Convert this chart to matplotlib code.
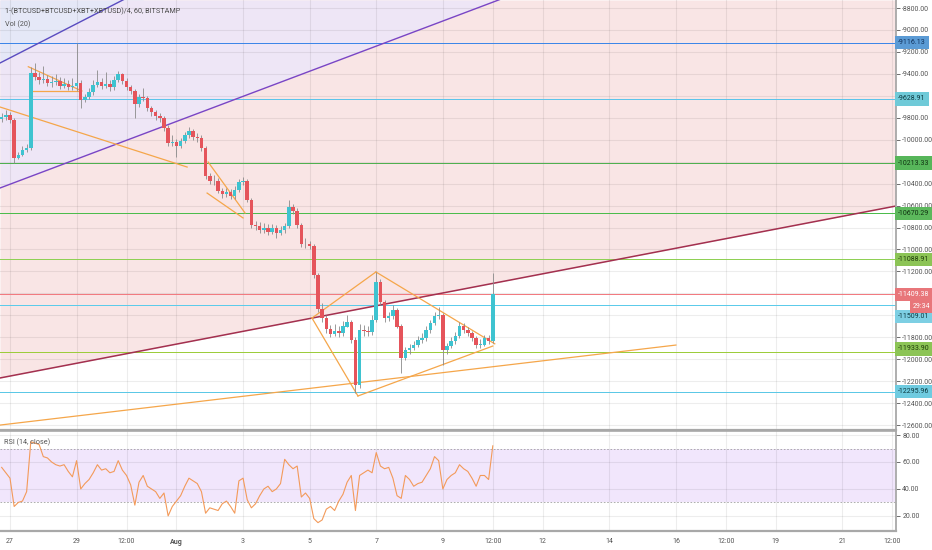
import matplotlib
matplotlib.use("Agg")
import matplotlib.pyplot as plt
import numpy as np
from matplotlib.ticker import FuncFormatter

plt.rcParams['font.family'] = ['Roboto', 'DejaVu Sans']

# 3-hour bars, day 0 = Jul 27 00:00, first bar Jul 26 18:00
bar_start = -0.25
bar_step = 0.125
first_open = -9805

closes = [-9793, -9775, -9820, -10167, -10139, -10094, -10076, -9392, -9429, -9456,
          -9447, -9483, -9474, -9465, -9511, -9492, -9520, -9511, -9483, -9638,
          -9611, -9565, -9502, -9474, -9511, -9492, -9520, -9456, -9401, -9465,
          -9520, -9556, -9675, -9611, -9620, -9711, -9748, -9784, -9802, -9893,
          -10030, -10021, -10057, -10012, -9957, -9921, -9975, -9984, -10076, -10331,
          -10376, -10376, -10467, -10495, -10477, -10513, -10458, -10385, -10376, -10549,
          -10777, -10786, -10823, -10804, -10841, -10804, -10850, -10823, -10786, -10613,
          -10650, -10777, -10950, -10950, -10969, -11233, -11543, -11625, -11725, -11770,
          -11743, -11761, -11698, -11661, -11825, -12235, -11734, -11743, -11752, -11643,
          -11297, -11479, -11625, -11606, -11552, -11698, -11989, -11916, -11898, -11871,
          -11825, -11807, -11734, -11670, -11606, -11597, -11916, -11880, -11834, -11789,
          -11698, -11734, -11761, -11807, -11871, -11862, -11807, -11834, -11409.38]

highs = [-9760, -9730, -9750, -9800, -10110, -10060, -10040, -9340, -9300, -9380,
         -9330, -9410, -9420, -9400, -9430, -9440, -9460, -9440, -9119, -9460,
         -9580, -9530, -9460, -9365, -9440, -9383, -9460, -9420, -9374, -9390,
         -9440, -9500, -9540, -9580, -9529, -9600, -9690, -9730, -9760, -9780,
         -9870, -9960, -9990, -9980, -9930, -9884, -9900, -9940, -9960, -10060,
         -10300, -10322, -10350, -10440, -10440, -10450, -10420, -10360, -10340, -10360,
         -10530, -10740, -10750, -10760, -10770, -10770, -10780, -10790, -10760, -10549,
         -10590, -10620, -10760, -10900, -10920, -10950, -11210, -11488, -11600, -11690,
         -11680, -11700, -11650, -11600, -11640, -11800, -11680, -11690, -11700, -11600,
         -11205, -11270, -11460, -11570, -11510, -11530, -11680, -11890, -11860, -11830,
         -11790, -11760, -11700, -11640, -11570, -11524, -11580, -11850, -11800, -11750,
         -11661, -11670, -11710, -11740, -11790, -11820, -11780, -11780, -11215]

lows = [-9840, -9820, -9850, -10210, -10180, -10150, -10110, -10090, -9460, -9490,
        -9480, -9510, -9520, -9500, -9540, -9530, -9550, -9550, -9560, -9711,
        -9660, -9630, -9590, -9520, -9540, -9530, -9560, -9550, -9470, -9490,
        -9550, -9580, -9802, -9700, -9650, -9740, -9780, -9820, -9840, -9920,
        -10060, -10060, -10158, -10080, -10030, -9980, -10000, -10020, -10100, -10360,
        -10400, -10410, -10490, -10530, -10520, -10540, -10540, -10480, -10410, -10570,
        -10800, -10820, -10850, -10850, -10870, -10860, -10896, -10870, -10850, -10800,
        -10680, -10800, -10980, -10990, -11000, -11260, -11570, -11660, -11760, -11800,
        -11790, -11800, -11790, -11710, -11850, -12308, -12260, -11790, -11790, -11780,
        -11660, -11510, -11660, -11650, -11630, -11720, -12126, -12010, -11950, -11920,
        -11890, -11850, -11830, -11760, -11690, -11630, -12053, -11950, -11900, -11860,
        -11810, -11760, -11790, -11830, -11900, -11900, -11880, -11860, -11850]

rsi = [56, 52, 48, 27, 30, 31, 38, 75, 74, 73,
       64, 63, 60, 58, 57, 58, 53, 49, 61, 40,
       44, 47, 52, 58, 54, 55, 52, 53, 61, 54,
       50, 43, 28, 45, 50, 42, 40, 38, 33, 37,
       20, 27, 31, 35, 42, 48, 46, 44, 38, 22,
       26, 25, 24, 29, 31, 27, 22, 46, 48, 32,
       26, 29, 35, 40, 42, 38, 40, 44, 62, 58,
       55, 57, 34, 37, 33, 18, 15, 17, 25, 27,
       24, 31, 36, 45, 50, 24, 50, 52, 54, 52,
       67, 57, 55, 56, 48, 35, 33, 50, 47, 42,
       44, 45, 50, 55, 64, 61, 40, 47, 50, 52,
       58, 55, 53, 48, 42, 50, 50, 47, 72]

# horizontal levels and their price-scale labels
levels = [-9116.13, -9628.91, -10213.33, -10670.29, -11088.91,
          -11409.38, -11509.01, -11933.90, -12295.96]
level_line_colors = ['#3d86e8', '#5cc4ea', '#4fb04f', '#4cbc4c', '#8fd054',
                     '#f27a80', '#5ccbea', '#9ccc3c', '#5cc8e6']
level_box_colors = ['#5b9bd5', '#6fcad8', '#57b65a', '#5cb85c', '#8cc456',
                    '#e8767a', '#7dcfe3', '#8cc456', '#6fcbe0']
level_text_colors = ['#10305a', '#0d3a40', '#0f3010', '#0f3010', '#1e3a0a',
                     'white', '#0d3a40', '#1e3a0a', '#0d3a40']
level_shift = [0, 0, 0, 0, 0, 0, -11, 3, 0]
hidden_ticks = [-9600, -10200, -11400, -11600]

# drawn trend lines: (x0, y0, x1, y1) in days / value
purple_upper = (-0.30, -9301, 4.0, -8632)
purple_lower = (-0.30, -10440, 14.7, -8724)
maroon_line = (-0.30, -12171, 26.61, -10604)
orange_lines = [(-0.30, -9702, 5.32, -10249),
                (0.55, -9335, 2.16, -9556),
                (0.60, -9556, 2.10, -9556),
                (5.95, -10203, 7.06, -10668),
                (5.92, -10486, 7.00, -10713),
                (9.07, -11625, 10.99, -11205),
                (10.99, -11205, 14.56, -11860),
                (9.07, -11625, 10.45, -12335),
                (10.45, -12335, 14.50, -11880),
                (-0.30, -12600, 20.0, -11871)]

tick_days = [0, 2, 3.5, 5, 7, 9, 11, 13, 14.5, 16, 18, 20, 21.5, 23, 25, 26.5]
tick_labels = ['27', '29', '12:00', 'Aug', '3', '5', '7', '9', '12:00',
               '12', '14', '16', '12:00', '19', '21', '12:00']

x_left, x_right = -0.30, 26.61
y_bottom, y_top = -12645, -8727

fig = plt.figure(figsize=(9.32, 5.5), dpi=100)
ax = fig.add_axes([0, 120 / 550, 896 / 932, 430 / 550])
ax2 = fig.add_axes([0, 19 / 550, 896 / 932, 100 / 550])

# ---- background zones
ax.fill_between([maroon_line[0], maroon_line[2]], [maroon_line[1], maroon_line[3]], y_top,
                color='#f9e5e5', lw=0, zorder=0)
ax.fill_between([purple_lower[0], purple_lower[2]], [purple_lower[1], purple_lower[3]], y_top,
                color='#eee6f6', lw=0, zorder=0.1)
ax.fill_between([purple_upper[0], purple_upper[2]], [purple_upper[1], purple_upper[3]], y_top,
                color='#e5e8f7', lw=0, zorder=0.2)

# grid
for d in tick_days:
    ax.axvline(d, color=(0, 0, 0, 0.07), lw=0.8, zorder=0.5)
    ax2.axvline(d, color=(0, 0, 0, 0.07), lw=0.8, zorder=0.5)
for v in np.arange(-8800, -12601, -200):
    ax.axhline(v, color=(0, 0, 0, 0.07), lw=0.8, zorder=0.5)

# levels (1 px, pixel snapped so the colour stays clean)
for v, lc in zip(levels, level_line_colors):
    ax.axhline(v, color=lc, lw=0.72, snap=True, zorder=1)

# trend lines
ax.plot(purple_upper[::2], purple_upper[1::2], color='#5a4bc0', lw=1.0, zorder=2)
ax.plot(purple_lower[::2], purple_lower[1::2], color='#7a45c4', lw=1.0, zorder=2)
ax.plot(maroon_line[::2], maroon_line[1::2], color='#a3304f', lw=1.1, zorder=2)
for ln in orange_lines:
    ax.plot(ln[::2], ln[1::2], color='#f5a64a', lw=0.9, zorder=2)

# candles
t = bar_start + bar_step * np.arange(len(closes))
c = np.array(closes, dtype=float)
o = np.concatenate([[first_open], c[:-1]])
up = c >= o
ax.vlines(t, lows, highs, color='#8a8a8a', lw=0.6, zorder=3)
ax.bar(t, np.abs(c - o) + 8, bottom=np.minimum(o, c) - 4, width=0.105,
       color=np.where(up, '#3ec3d0', '#e5545b'), lw=0, zorder=4)

ax.set_xlim(x_left, x_right)
ax.set_ylim(y_bottom, y_top)
ax.yaxis.tick_right()
ax.set_yticks(np.arange(-8800, -12601, -200))
ax.yaxis.set_major_formatter(FuncFormatter(
    lambda v, _: '' if round(v) in hidden_ticks else f"{v:.2f}"))
ax.tick_params(axis='y', labelsize=5, colors='#555555', length=3, width=0.6, pad=1.5)
ax.tick_params(axis='x', bottom=False, labelbottom=False)
for s in ['top', 'left']:
    ax.spines[s].set_visible(False)
ax.spines['right'].set_color('#a8a8a8')
ax.spines['right'].set_linewidth(1.3)
ax.spines['bottom'].set_color('#a8a8a8')
ax.spines['bottom'].set_linewidth(1.6)

# level labels on price scale
for v, bc, tc, sh in zip(levels, level_box_colors, level_text_colors, level_shift):
    ax.annotate(f"{v:.2f}", xy=(1, v), xycoords=('axes fraction', 'data'),
                xytext=(1.6, sh * 0.72), textcoords='offset points',
                ha='left', va='center', fontsize=5, color=tc, zorder=10,
                annotation_clip=False,
                bbox=dict(boxstyle='square,pad=0.45', fc=bc, ec='none'))
ax.annotate("29:34", xy=(1, levels[5]), xycoords=('axes fraction', 'data'),
            xytext=(18.5, -12 * 0.72), textcoords='offset points',
            ha='center', va='center', fontsize=5, color='white', zorder=10,
            annotation_clip=False,
            bbox=dict(boxstyle='square,pad=0.45', fc='#e8767a', ec='none'))

fig.text(5 / 932, 1 - 11 / 550, "1-(BTCUSD+BTCUSD+XBT+XBTUSD)/4, 60, BITSTAMP",
         fontsize=5.2, color='#4a4a4a', va='center', ha='left')
fig.text(5 / 932, 1 - 24 / 550, "Vol (20)", fontsize=5.2, color='#555555',
         va='center', ha='left')

# ---- RSI pane
ax2.axhspan(30, 70, color='#f1e6fc', lw=0, zorder=0)
for v in [80, 60, 40, 20]:
    ax2.axhline(v, color=(0, 0, 0, 0.07), lw=0.8, zorder=0.5)
ax2.axhline(70, color='#a0a0a0', lw=0.6, ls=(0, (2, 2)), zorder=1)
ax2.axhline(30, color='#a0a0a0', lw=0.6, ls=(0, (2, 2)), zorder=1)
ax2.plot(t, rsi, color='#f39a5a', lw=0.8, zorder=3)
ax2.text(4 / 896, 0.89, "RSI (14, close)", transform=ax2.transAxes,
         fontsize=5.2, color='#555555', va='center', ha='left')

ax2.set_xlim(x_left, x_right)
ax2.set_ylim(8.8, 83)
ax2.yaxis.tick_right()
ax2.set_yticks([80, 60, 40, 20])
ax2.yaxis.set_major_formatter(FuncFormatter(lambda v, _: f"{v:.2f}"))
ax2.tick_params(axis='y', labelsize=5, colors='#555555', length=3, width=0.6, pad=1.5)
ax2.set_xticks(tick_days)
ax2.set_xticklabels(tick_labels)
ax2.tick_params(axis='x', labelsize=5, colors='#555555', length=0, pad=5)
for lbl in ax2.get_xticklabels():
    if lbl.get_text() == 'Aug':
        lbl.set_fontweight('bold')
ax2.spines['left'].set_visible(False)
for s in ['top', 'bottom', 'right']:
    ax2.spines[s].set_color('#a8a8a8')
ax2.spines['top'].set_linewidth(1.2)
ax2.spines['bottom'].set_linewidth(1.6)
ax2.spines['right'].set_linewidth(1.3)

fig.savefig('out.png', dpi=100)
